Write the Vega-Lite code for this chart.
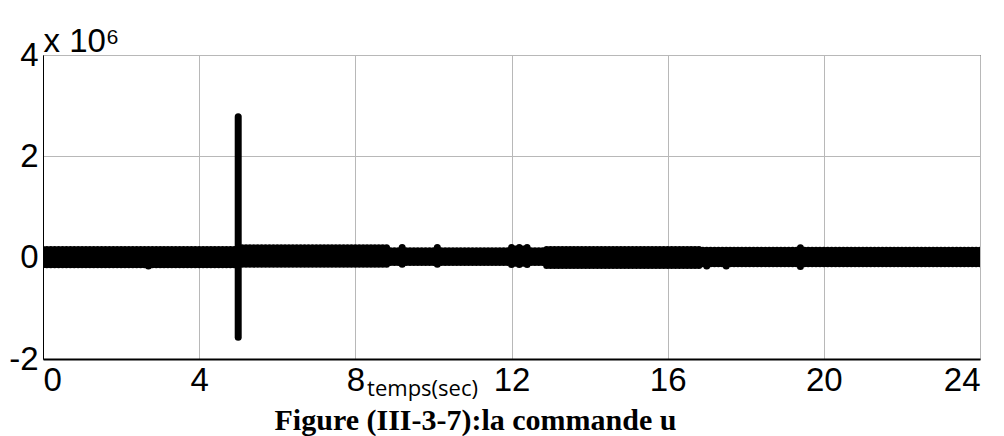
{
  "$schema": "https://vega.github.io/schema/vega-lite/v6.json",
  "width": 937,
  "height": 304,
  "autosize": {"type": "none"},
  "padding": {"left": 43, "top": 55, "right": 24, "bottom": 77},
  "background": "white",
  "config": {
    "view": {"stroke": "black", "strokeWidth": 1},
    "axis": {"labelFont": "Liberation Sans", "labelFontSize": 33, "labelColor": "black", "ticks": false, "grid": true, "gridColor": "#b8b8b8", "gridWidth": 1, "domainColor": "black"}
  },
  "title": {
    "text": "Figure (III-3-7):la commande u",
    "orient": "bottom",
    "anchor": "middle",
    "font": "Liberation Serif",
    "fontWeight": "bold",
    "fontSize": 30,
    "color": "black",
    "offset": 7,
    "dx": -36
  },
  "data": {
    "values": [
      {"t":0,"lo":-0.14,"hi":0.162},{"t":0.1,"lo":-0.14,"hi":0.162},{"t":0.2,"lo":-0.14,"hi":0.162},{"t":0.3,"lo":-0.14,"hi":0.162},{"t":0.4,"lo":-0.14,"hi":0.162},
      {"t":0.5,"lo":-0.14,"hi":0.162},{"t":0.6,"lo":-0.14,"hi":0.162},{"t":0.7,"lo":-0.14,"hi":0.162},{"t":0.8,"lo":-0.14,"hi":0.162},{"t":0.9,"lo":-0.14,"hi":0.162},
      {"t":1.0,"lo":-0.14,"hi":0.162},{"t":1.1,"lo":-0.14,"hi":0.162},{"t":1.2,"lo":-0.14,"hi":0.162},{"t":1.3,"lo":-0.14,"hi":0.162},{"t":1.4,"lo":-0.14,"hi":0.162},
      {"t":1.5,"lo":-0.14,"hi":0.162},{"t":1.6,"lo":-0.14,"hi":0.162},{"t":1.7,"lo":-0.14,"hi":0.162},{"t":1.8,"lo":-0.14,"hi":0.162},{"t":1.9,"lo":-0.14,"hi":0.162},
      {"t":2.0,"lo":-0.14,"hi":0.162},{"t":2.1,"lo":-0.14,"hi":0.162},{"t":2.2,"lo":-0.14,"hi":0.162},{"t":2.3,"lo":-0.14,"hi":0.162},{"t":2.4,"lo":-0.14,"hi":0.162},
      {"t":2.5,"lo":-0.14,"hi":0.162},{"t":2.6,"lo":-0.14,"hi":0.162},{"t":2.7,"lo":-0.165,"hi":0.162},{"t":2.8,"lo":-0.14,"hi":0.162},{"t":2.9,"lo":-0.14,"hi":0.162},
      {"t":3.0,"lo":-0.14,"hi":0.162},{"t":3.1,"lo":-0.14,"hi":0.162},{"t":3.2,"lo":-0.14,"hi":0.162},{"t":3.3,"lo":-0.14,"hi":0.162},{"t":3.4,"lo":-0.14,"hi":0.162},
      {"t":3.5,"lo":-0.14,"hi":0.162},{"t":3.6,"lo":-0.14,"hi":0.162},{"t":3.7,"lo":-0.14,"hi":0.162},{"t":3.8,"lo":-0.14,"hi":0.162},{"t":3.9,"lo":-0.14,"hi":0.162},
      {"t":4.0,"lo":-0.14,"hi":0.162},{"t":4.1,"lo":-0.14,"hi":0.162},{"t":4.2,"lo":-0.14,"hi":0.162},{"t":4.3,"lo":-0.14,"hi":0.162},{"t":4.4,"lo":-0.14,"hi":0.162},
      {"t":4.5,"lo":-0.14,"hi":0.162},{"t":4.6,"lo":-0.14,"hi":0.162},{"t":4.7,"lo":-0.14,"hi":0.162},{"t":4.8,"lo":-0.14,"hi":0.162},{"t":4.9,"lo":-0.14,"hi":0.162},
      {"t":5.0,"lo":-1.57,"hi":2.78},
      {"t":5.1,"lo":-0.128,"hi":0.195},{"t":5.2,"lo":-0.128,"hi":0.195},{"t":5.3,"lo":-0.128,"hi":0.195},{"t":5.4,"lo":-0.128,"hi":0.195},{"t":5.5,"lo":-0.128,"hi":0.195},
      {"t":5.6,"lo":-0.128,"hi":0.195},{"t":5.7,"lo":-0.128,"hi":0.195},{"t":5.8,"lo":-0.128,"hi":0.195},{"t":5.9,"lo":-0.128,"hi":0.195},{"t":6.0,"lo":-0.128,"hi":0.195},
      {"t":6.1,"lo":-0.128,"hi":0.195},{"t":6.2,"lo":-0.128,"hi":0.195},{"t":6.3,"lo":-0.128,"hi":0.195},{"t":6.4,"lo":-0.128,"hi":0.195},{"t":6.5,"lo":-0.128,"hi":0.195},
      {"t":6.6,"lo":-0.128,"hi":0.195},{"t":6.7,"lo":-0.128,"hi":0.195},{"t":6.8,"lo":-0.128,"hi":0.195},{"t":6.9,"lo":-0.128,"hi":0.195},{"t":7.0,"lo":-0.128,"hi":0.195},
      {"t":7.1,"lo":-0.128,"hi":0.195},{"t":7.2,"lo":-0.128,"hi":0.195},{"t":7.3,"lo":-0.128,"hi":0.195},{"t":7.4,"lo":-0.128,"hi":0.195},{"t":7.5,"lo":-0.128,"hi":0.195},
      {"t":7.6,"lo":-0.128,"hi":0.195},{"t":7.7,"lo":-0.128,"hi":0.195},{"t":7.8,"lo":-0.128,"hi":0.195},{"t":7.9,"lo":-0.128,"hi":0.195},{"t":8.0,"lo":-0.128,"hi":0.195},
      {"t":8.1,"lo":-0.128,"hi":0.195},{"t":8.2,"lo":-0.128,"hi":0.195},{"t":8.3,"lo":-0.128,"hi":0.195},{"t":8.4,"lo":-0.128,"hi":0.195},{"t":8.5,"lo":-0.128,"hi":0.195},
      {"t":8.6,"lo":-0.128,"hi":0.195},{"t":8.7,"lo":-0.128,"hi":0.195},{"t":8.8,"lo":-0.128,"hi":0.195},
      {"t":8.9,"lo":-0.095,"hi":0.136},{"t":9.0,"lo":-0.095,"hi":0.136},{"t":9.1,"lo":-0.095,"hi":0.136},{"t":9.2,"lo":-0.13,"hi":0.2},{"t":9.3,"lo":-0.095,"hi":0.136},
      {"t":9.4,"lo":-0.095,"hi":0.136},{"t":9.5,"lo":-0.095,"hi":0.136},{"t":9.6,"lo":-0.095,"hi":0.136},{"t":9.7,"lo":-0.095,"hi":0.136},{"t":9.8,"lo":-0.095,"hi":0.136},
      {"t":9.9,"lo":-0.095,"hi":0.136},{"t":10.0,"lo":-0.095,"hi":0.136},{"t":10.1,"lo":-0.13,"hi":0.2},{"t":10.2,"lo":-0.095,"hi":0.136},{"t":10.3,"lo":-0.095,"hi":0.136},
      {"t":10.4,"lo":-0.095,"hi":0.136},{"t":10.5,"lo":-0.095,"hi":0.136},{"t":10.6,"lo":-0.095,"hi":0.136},{"t":10.7,"lo":-0.095,"hi":0.136},{"t":10.8,"lo":-0.095,"hi":0.136},
      {"t":10.9,"lo":-0.095,"hi":0.136},{"t":11.0,"lo":-0.095,"hi":0.136},{"t":11.1,"lo":-0.095,"hi":0.136},{"t":11.2,"lo":-0.095,"hi":0.136},{"t":11.3,"lo":-0.095,"hi":0.136},
      {"t":11.4,"lo":-0.095,"hi":0.136},{"t":11.5,"lo":-0.095,"hi":0.136},{"t":11.6,"lo":-0.095,"hi":0.136},{"t":11.7,"lo":-0.095,"hi":0.136},{"t":11.8,"lo":-0.095,"hi":0.136},
      {"t":11.9,"lo":-0.095,"hi":0.136},
      {"t":12.0,"lo":-0.134,"hi":0.2},{"t":12.1,"lo":-0.11,"hi":0.17},{"t":12.2,"lo":-0.134,"hi":0.2},{"t":12.3,"lo":-0.11,"hi":0.17},{"t":12.4,"lo":-0.134,"hi":0.2},
      {"t":12.5,"lo":-0.095,"hi":0.136},{"t":12.6,"lo":-0.095,"hi":0.136},{"t":12.7,"lo":-0.095,"hi":0.136},{"t":12.8,"lo":-0.095,"hi":0.136},
      {"t":12.9,"lo":-0.154,"hi":0.162},{"t":13.0,"lo":-0.154,"hi":0.162},{"t":13.1,"lo":-0.154,"hi":0.162},{"t":13.2,"lo":-0.154,"hi":0.162},{"t":13.3,"lo":-0.154,"hi":0.162},
      {"t":13.4,"lo":-0.154,"hi":0.162},{"t":13.5,"lo":-0.154,"hi":0.162},{"t":13.6,"lo":-0.154,"hi":0.162},{"t":13.7,"lo":-0.154,"hi":0.162},{"t":13.8,"lo":-0.154,"hi":0.162},
      {"t":13.9,"lo":-0.154,"hi":0.162},{"t":14.0,"lo":-0.154,"hi":0.162},{"t":14.1,"lo":-0.154,"hi":0.162},{"t":14.2,"lo":-0.154,"hi":0.162},{"t":14.3,"lo":-0.154,"hi":0.162},
      {"t":14.4,"lo":-0.154,"hi":0.162},{"t":14.5,"lo":-0.154,"hi":0.162},{"t":14.6,"lo":-0.154,"hi":0.162},{"t":14.7,"lo":-0.154,"hi":0.162},{"t":14.8,"lo":-0.154,"hi":0.162},
      {"t":14.9,"lo":-0.154,"hi":0.162},{"t":15.0,"lo":-0.154,"hi":0.162},{"t":15.1,"lo":-0.154,"hi":0.162},{"t":15.2,"lo":-0.154,"hi":0.162},{"t":15.3,"lo":-0.154,"hi":0.162},
      {"t":15.4,"lo":-0.154,"hi":0.162},{"t":15.5,"lo":-0.154,"hi":0.162},{"t":15.6,"lo":-0.154,"hi":0.162},{"t":15.7,"lo":-0.154,"hi":0.162},{"t":15.8,"lo":-0.154,"hi":0.162},
      {"t":15.9,"lo":-0.154,"hi":0.162},{"t":16.0,"lo":-0.154,"hi":0.162},{"t":16.1,"lo":-0.154,"hi":0.162},{"t":16.2,"lo":-0.154,"hi":0.162},{"t":16.3,"lo":-0.154,"hi":0.162},
      {"t":16.4,"lo":-0.154,"hi":0.162},{"t":16.5,"lo":-0.154,"hi":0.162},{"t":16.6,"lo":-0.154,"hi":0.162},{"t":16.7,"lo":-0.154,"hi":0.162},{"t":16.8,"lo":-0.154,"hi":0.162},
      {"t":16.9,"lo":-0.12,"hi":0.148},{"t":17.0,"lo":-0.165,"hi":0.148},{"t":17.1,"lo":-0.12,"hi":0.148},{"t":17.2,"lo":-0.12,"hi":0.148},{"t":17.3,"lo":-0.12,"hi":0.148},
      {"t":17.4,"lo":-0.12,"hi":0.148},{"t":17.5,"lo":-0.165,"hi":0.148},{"t":17.6,"lo":-0.12,"hi":0.148},{"t":17.7,"lo":-0.12,"hi":0.148},{"t":17.8,"lo":-0.12,"hi":0.148},
      {"t":17.9,"lo":-0.12,"hi":0.148},{"t":18.0,"lo":-0.12,"hi":0.148},{"t":18.1,"lo":-0.12,"hi":0.148},{"t":18.2,"lo":-0.12,"hi":0.148},{"t":18.3,"lo":-0.12,"hi":0.148},
      {"t":18.4,"lo":-0.12,"hi":0.148},{"t":18.5,"lo":-0.12,"hi":0.148},{"t":18.6,"lo":-0.12,"hi":0.148},{"t":18.7,"lo":-0.12,"hi":0.148},{"t":18.8,"lo":-0.12,"hi":0.148},
      {"t":18.9,"lo":-0.12,"hi":0.148},{"t":19.0,"lo":-0.12,"hi":0.148},{"t":19.1,"lo":-0.12,"hi":0.148},{"t":19.2,"lo":-0.12,"hi":0.148},{"t":19.3,"lo":-0.12,"hi":0.148},
      {"t":19.4,"lo":-0.175,"hi":0.195},{"t":19.5,"lo":-0.12,"hi":0.148},{"t":19.6,"lo":-0.12,"hi":0.148},{"t":19.7,"lo":-0.12,"hi":0.148},{"t":19.8,"lo":-0.12,"hi":0.148},
      {"t":19.9,"lo":-0.12,"hi":0.148},{"t":20.0,"lo":-0.12,"hi":0.148},{"t":20.1,"lo":-0.12,"hi":0.148},{"t":20.2,"lo":-0.12,"hi":0.148},{"t":20.3,"lo":-0.12,"hi":0.148},
      {"t":20.4,"lo":-0.12,"hi":0.148},{"t":20.5,"lo":-0.12,"hi":0.148},{"t":20.6,"lo":-0.12,"hi":0.148},{"t":20.7,"lo":-0.12,"hi":0.148},{"t":20.8,"lo":-0.12,"hi":0.148},
      {"t":20.9,"lo":-0.12,"hi":0.148},{"t":21.0,"lo":-0.12,"hi":0.148},{"t":21.1,"lo":-0.12,"hi":0.148},{"t":21.2,"lo":-0.12,"hi":0.148},{"t":21.3,"lo":-0.12,"hi":0.148},
      {"t":21.4,"lo":-0.12,"hi":0.148},{"t":21.5,"lo":-0.12,"hi":0.148},{"t":21.6,"lo":-0.12,"hi":0.148},{"t":21.7,"lo":-0.12,"hi":0.148},{"t":21.8,"lo":-0.12,"hi":0.148},
      {"t":21.9,"lo":-0.12,"hi":0.148},{"t":22.0,"lo":-0.12,"hi":0.148},{"t":22.1,"lo":-0.12,"hi":0.148},{"t":22.2,"lo":-0.12,"hi":0.148},{"t":22.3,"lo":-0.12,"hi":0.148},
      {"t":22.4,"lo":-0.12,"hi":0.148},{"t":22.5,"lo":-0.12,"hi":0.148},{"t":22.6,"lo":-0.12,"hi":0.148},{"t":22.7,"lo":-0.12,"hi":0.148},{"t":22.8,"lo":-0.12,"hi":0.148},
      {"t":22.9,"lo":-0.12,"hi":0.148},{"t":23.0,"lo":-0.12,"hi":0.148},{"t":23.1,"lo":-0.12,"hi":0.148},{"t":23.2,"lo":-0.12,"hi":0.148},{"t":23.3,"lo":-0.12,"hi":0.148},
      {"t":23.4,"lo":-0.12,"hi":0.148},{"t":23.5,"lo":-0.12,"hi":0.148},{"t":23.6,"lo":-0.12,"hi":0.148},{"t":23.7,"lo":-0.12,"hi":0.148},{"t":23.8,"lo":-0.12,"hi":0.148},
      {"t":23.9,"lo":-0.12,"hi":0.148},{"t":24.0,"lo":-0.12,"hi":0.148}
    ]
  },
  "mark": {"type": "rule", "color": "black", "strokeWidth": 7, "strokeCap": "round", "clip": true},
  "encoding": {
    "x": {
      "field": "t",
      "type": "quantitative",
      "scale": {"domain": [0, 24], "nice": false, "zero": false},
      "axis": {
        "values": [0, 4, 8, 12, 16, 20, 24],
        "labelExpr": "'' + datum.value",
        "labelPadding": 5,
        "domainWidth": 2,
        "title": "temps(sec)",
        "titleFont": "Open Sans",
        "titleFontSize": 22,
        "titleFontWeight": "normal",
        "titleColor": "black",
        "titleAlign": "center",
        "titleBaseline": "alphabetic",
        "titleX": 379,
        "titleY": 36
      }
    },
    "y": {
      "field": "lo",
      "type": "quantitative",
      "scale": {"domain": [-2, 4], "nice": false, "zero": false},
      "axis": {
        "values": [-2, 0, 2, 4],
        "labelExpr": "'' + datum.value",
        "labelPadding": 5,
        "domainWidth": 1,
        "title": "x 10⁶",
        "titleFont": "Liberation Sans",
        "titleFontSize": 33,
        "titleFontWeight": "normal",
        "titleColor": "black",
        "titleAngle": 0,
        "titleAlign": "left",
        "titleBaseline": "alphabetic",
        "titleX": 0,
        "titleY": -4
      }
    },
    "y2": {"field": "hi"}
  }
}
